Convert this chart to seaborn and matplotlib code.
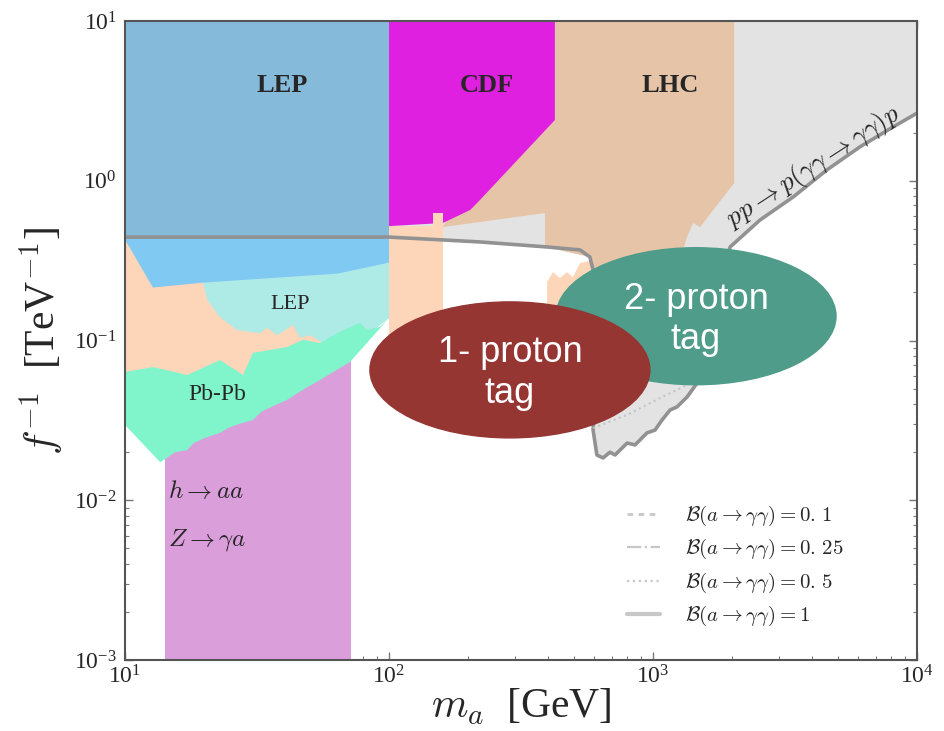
import numpy as np
import pandas as pd
import seaborn as sns
import matplotlib
matplotlib.use("Agg")
import matplotlib.pyplot as plt
from matplotlib.patches import Ellipse
from matplotlib.lines import Line2D

# ---------------- exclusion regions (m_a in GeV, 1/f in TeV^-1) ----------------
# LEP (upper band)
lep_m = [10, 100]
lep_lo = [0.444, 0.444]
lep_hi = [10, 10]

# LEP light-blue band below it
lepb_m = [10, 12.7, 19.7, 63.5, 100]
lepb_lo = [0.426, 0.216, 0.232, 0.264, 0.310]

# LEP (lower, turquoise) polygon
lepc_m = [19.7, 100, 100, 84, 71, 58.2, 19.7]
lepc_f = [0.44, 0.44, 0.138, 0.11, 0.09, 0.080, 0.070]

# low-mass peach region polygon
peach_m = [10, 19.7, 19.7, 20.5, 22.9, 26.6, 32.4, 34.5, 37.7, 43.3, 46.0,
           50.2, 56.2, 58.2, 58.2, 10]
peach_f = [0.44, 0.44, 0.232, 0.179, 0.140, 0.116, 0.111, 0.120, 0.108,
           0.125, 0.104, 0.108, 0.0964, 0.0910, 0.070, 0.045]

# Pb-Pb polygon (upper edge left->right, lower edge right->left)
pbpb_m = [10, 12.8, 17.2, 22.9, 28.0, 30.5, 35.4, 41.1, 47.2, 54.8, 63.5,
          77.6, 82.6, 92.5, 98.2, 100,
          71.1, 60, 54.8, 48, 41.1, 36, 33, 30.5, 27, 24.5, 22.9, 20, 18.2,
          17.2, 15.5, 13.6, 10]
pbpb_f = [0.0635, 0.0682, 0.0608, 0.0755, 0.0608, 0.0836, 0.0873, 0.0910,
          0.101, 0.0964, 0.111, 0.129, 0.116, 0.122, 0.134, 0.138,
          0.0733, 0.062, 0.0566, 0.050, 0.0425, 0.0385, 0.036, 0.0318,
          0.030, 0.0283, 0.0264, 0.0245, 0.0228, 0.0206, 0.0200, 0.0173,
          0.0296]

# h -> aa, Z -> gamma a
haa_m = [14.2, 71.8]
haa_lo = [1e-3, 1e-3]
haa_hi = [0.09, 0.09]

# CDF polygon
cdf_m = [100, 425, 425, 221, 203, 160, 100]
cdf_f = [10, 10, 2.40, 0.757, 0.656, 0.544, 0.52]

# peach column just above 100 GeV (with narrow spike)
col_m = [100, 147, 147, 160, 160, 100]
col_f = [0.52, 0.52, 0.628, 0.628, 0.09, 0.09]

# LHC polygon
lhc_m = [425, 2030, 2030, 1507, 1419, 1346, 1300, 1265, 600, 593, 577,
         390, 390, 160]
lhc_f = [10, 10, 0.968, 0.513, 0.544, 0.444, 0.369, 0.15, 0.15, 0.276,
         0.333, 0.385, 0.628, 0.513]

# peach patch below the LHC region
lhc2_m = [397, 418, 444, 472, 497, 529, 593, 593, 397]
lhc2_f = [0.232, 0.268, 0.246, 0.268, 0.249, 0.305, 0.319, 0.15, 0.15]

# pp -> p(gamma gamma -> gamma gamma)p reach, B(a->gamma gamma)=1
pp_m = [10, 100, 221, 397, 529, 577, 593, 600, 600, 593, 613, 647, 687,
        718, 798, 855, 949, 1018, 1082, 1160, 1233, 1346, 1469, 1959, 2543,
        3390, 4560, 6080, 8110, 10000]
pp_f = [0.444, 0.444, 0.414, 0.385, 0.369, 0.333, 0.276, 0.15, 0.04,
        0.0275, 0.0192, 0.0184, 0.0200, 0.0192, 0.0228, 0.0222, 0.0264,
        0.0275, 0.0318, 0.0367, 0.0384, 0.0443, 0.0542, 0.385, 0.568,
        0.790, 1.17, 1.63, 2.17, 2.65]

# B(a->gamma gamma)=0.5 segment
pp05_m = [593, 798, 1063, 1419]
pp05_f = [0.0283, 0.0342, 0.0436, 0.0550]

legend_labels = [r"$\mathcal{B}(a\to\gamma\gamma) = 0.\,1$",
                 r"$\mathcal{B}(a\to\gamma\gamma) = 0.\,25$",
                 r"$\mathcal{B}(a\to\gamma\gamma) = 0.\,5$",
                 r"$\mathcal{B}(a\to\gamma\gamma) = 1$"]

# ---------------- styling ----------------
sns.set_style("ticks")
plt.rcParams["font.family"] = ["Liberation Serif", "DejaVu Serif"]
plt.rcParams["mathtext.fontset"] = "cm"

fig = plt.figure(figsize=(9.45, 7.31), dpi=100)
ax = fig.add_axes([125 / 945, 71 / 731, 792 / 945, 639 / 731])
ax.set_xscale("log")
ax.set_yscale("log")
ax.set_xlim(10, 1e4)
ax.set_ylim(1e-3, 10)

# regions, back to front
ax.fill(pp_m + [10000, 10], pp_f + [10, 10], color="#e3e3e3", lw=0, zorder=1)
ax.fill_between(haa_m, haa_lo, haa_hi, color="#da9eda", lw=0, zorder=2)
ax.fill(lepc_m, lepc_f, color="#aeeae6", lw=0, zorder=3)
ax.fill(peach_m, peach_f, color="#fdd6b9", lw=0, zorder=4)
ax.fill(pbpb_m, pbpb_f, color="#80f5cc", lw=0, zorder=5)
ax.fill_between(lepb_m, lepb_lo, 0.444, color="#80c9f2", lw=0, zorder=6)
ax.fill_between(lep_m, lep_lo, lep_hi, color="#86badb", lw=0, zorder=7)
ax.fill(lhc_m, lhc_f, color="#e6c4a7", lw=0, zorder=3)
ax.fill(lhc2_m, lhc2_f, color="#fdd6b9", lw=0, zorder=4)
ax.fill(cdf_m, cdf_f, color="#e020e0", lw=0, zorder=5)
ax.fill(col_m, col_f, color="#fdd6b9", lw=0, zorder=6)

# reach contours
sns.lineplot(x=pp_m, y=pp_f, sort=False, estimator=None, color="#929292",
             lw=2.6, ax=ax, zorder=8)
sns.lineplot(x=pp05_m, y=pp05_f, sort=False, estimator=None, color="#c4c4c4",
             lw=1.5, ls=":", ax=ax, zorder=8)

# region labels
ax.text(39.3, 3.97, "LEP", fontsize=19, fontweight="bold", ha="center",
        va="center", zorder=9)
ax.text(235, 3.97, "CDF", fontsize=19, fontweight="bold", ha="center",
        va="center", zorder=9)
ax.text(1159, 3.97, "LHC", fontsize=19, fontweight="bold", ha="center",
        va="center", zorder=9)
ax.text(42.2, 0.167, "LEP", fontsize=16, ha="center", va="center", zorder=9)
ax.text(22.3, 0.0456, "Pb-Pb", fontsize=17, ha="center", va="center",
        zorder=9)
ax.text(14.6, 0.0113, r"$h\to aa$", fontsize=18, ha="left", va="center",
        zorder=9)
ax.text(14.6, 0.00564, r"$Z\to\gamma a$", fontsize=18, ha="left",
        va="center", zorder=9)
ax.text(4050, 1.22, r"$pp\to p(\gamma\gamma\to\gamma\gamma)p$", fontsize=19,
        ha="center", va="center", rotation=33, rotation_mode="anchor",
        zorder=9)

# tagging ellipses
green = Ellipse((0.721, 0.538), 0.3535, 0.2144, transform=ax.transAxes,
                color="#4e9c89", zorder=10)
red = Ellipse((0.486, 0.454), 0.3535, 0.2128, transform=ax.transAxes,
              color="#953633", zorder=11)
ax.add_patch(green)
ax.add_patch(red)
ax.text(0.721, 0.533, "2- proton\ntag", transform=ax.transAxes, fontsize=26,
        color="white", ha="center", va="center", linespacing=1.2,
        family=["Liberation Sans", "DejaVu Sans"], zorder=12)
ax.text(0.486, 0.449, "1- proton\ntag", transform=ax.transAxes, fontsize=26,
        color="white", ha="center", va="center", linespacing=1.25,
        family=["Liberation Sans", "DejaVu Sans"], zorder=12)

# legend
handles = [Line2D([], [], color="#c8c8c8", lw=2, ls=(0, (2, 2))),
           Line2D([], [], color="#c8c8c8", lw=1.6, ls="-."),
           Line2D([], [], color="#c8c8c8", lw=1.6, ls=":"),
           Line2D([], [], color="#c8c8c8", lw=3, ls="-")]
leg = ax.legend(handles, legend_labels, loc="lower right",
                bbox_to_anchor=(0.931, 0.02), frameon=False, fontsize=15,
                handlelength=1.6, handletextpad=1.2, labelspacing=0.45,
                borderpad=0.4)
leg.set_zorder(12)

# axes cosmetics
for s in ax.spines.values():
    s.set_color("#555555")
    s.set_linewidth(1.5)
    s.set_zorder(13)
ax.tick_params(which="both", direction="in", top=True, right=True,
               color="#777777", labelsize=17)
ax.tick_params(which="major", length=6, width=1)
ax.tick_params(which="minor", length=3, width=0.8)
ax.tick_params(axis="x", pad=4)
ax.tick_params(axis="y", pad=6)
ax.set_xlabel(r"$m_a$  [GeV]", fontsize=30, labelpad=-1)
ax.set_ylabel(r"$f^{-1}$  [TeV$^{-1}$]", fontsize=30, labelpad=6)

fig.savefig("out.png", dpi=100)
